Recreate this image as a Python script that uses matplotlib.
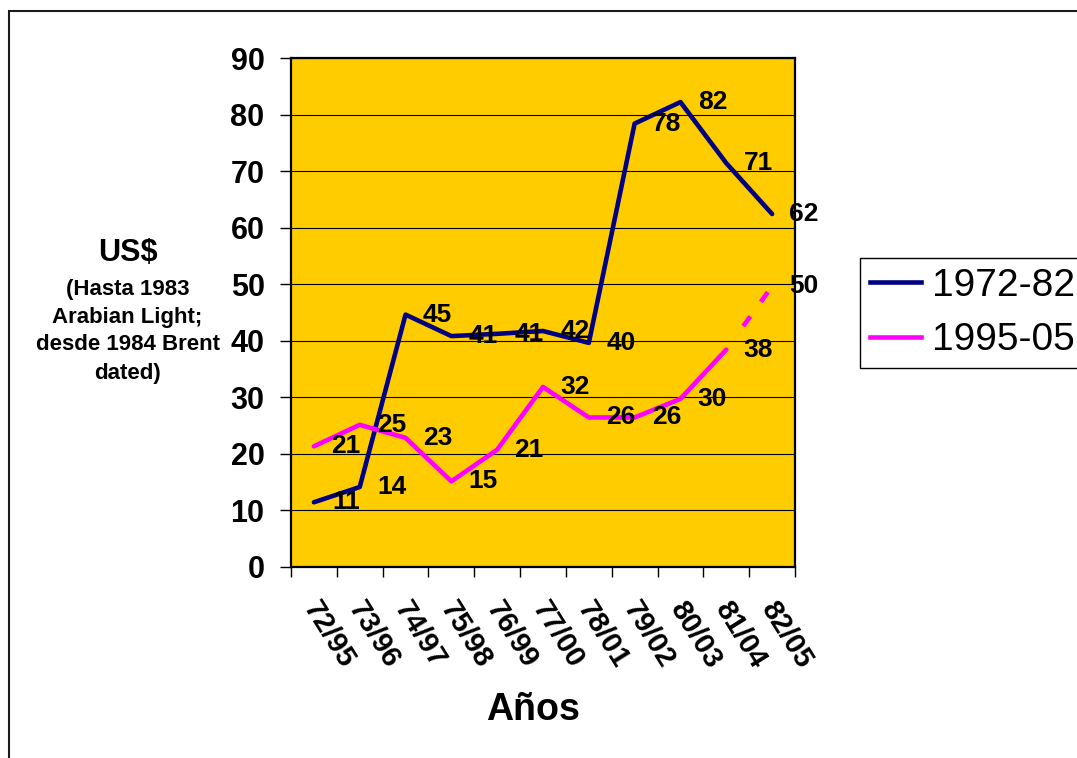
import matplotlib
matplotlib.use("Agg")
import matplotlib.pyplot as plt
import matplotlib.transforms as mtransforms
from matplotlib.lines import Line2D
from matplotlib.patches import Rectangle

plt.rcParams['font.family'] = ['Liberation Sans', 'DejaVu Sans']

# Oil price data (US$ per barrel)
periods = ['72/95', '73/96', '74/97', '75/98', '76/99', '77/00',
           '78/01', '79/02', '80/03', '81/04', '82/05']
prices_1972_82 = [11.4, 14.1, 44.6, 40.8, 41.2, 41.7, 39.6, 78.4, 82.2, 71.4, 62.4]
prices_1995_05 = [21.3, 25.1, 22.8, 15.1, 20.7, 31.8, 26.4, 26.4, 29.7, 38.4, 49.6]
series_names = ['1972-82', '1995-05']

navy = '#000080'
magenta = '#FF00FF'
gold = '#FFCC00'

W, H = 1077, 758
fig = plt.figure(figsize=(W / 100, H / 100), dpi=100)

# outer chart frame
fig.add_artist(Rectangle((8.5 / W, -0.2), 1.5, 1.2 - 10.5 / H,
                         transform=fig.transFigure, fill=False,
                         edgecolor='#1a1a1a', linewidth=1.5))

ax = fig.add_axes([291 / W, 1 - 566.7 / H, (795 - 291) / W, (566.7 - 58) / H])
ax.set_facecolor(gold)
ax.set_xlim(-0.5, 10.5)
ax.set_ylim(0, 90)
ax.set_yticks(range(0, 91, 10))
ax.yaxis.grid(True, color='black', linewidth=0.8)
ax.set_axisbelow(True)
for s in ax.spines.values():
    s.set_linewidth(1.6)
    s.set_color('black')

x = list(range(len(periods)))
lw = 3.3
ax.plot(x, prices_1972_82, color=navy, lw=lw, solid_capstyle='round',
        solid_joinstyle='round', zorder=3)
ax.plot(x[:-1], prices_1995_05[:-1], color=magenta, lw=lw,
        solid_capstyle='round', solid_joinstyle='round', zorder=3)

# last segment of the 1995-05 series drawn dashed; pattern given in pixels
px = 0.72 / lw
dash_offset = 50 * px
dash_seq = (12 * px, 18 * px, 12 * px, 37 * px)
ax.plot(x[-2:], prices_1995_05[-2:], color=magenta, lw=lw, zorder=3,
        linestyle=(dash_offset, dash_seq), dash_capstyle='butt')

# value labels to the right of each point
for series in (prices_1972_82, prices_1995_05):
    for i, v in enumerate(series):
        ax.annotate(f"{v:.0f}", (i, v), xytext=(23, 0), textcoords='offset points',
                    ha='center', va='center', fontsize=19, fontweight='bold',
                    zorder=4, annotation_clip=False)

# y axis
ax.tick_params(axis='y', which='major', length=8, width=1, pad=11,
               labelsize=22, direction='out')
for t in ax.get_yticklabels():
    t.set_fontweight('bold')

# x axis: tick marks on category boundaries, labels at centres
ax.set_xticks(x)
ax.set_xticks([i - 0.5 for i in range(len(periods) + 1)], minor=True)
ax.set_xticklabels(periods, rotation=-58, ha='left', va='top',
                   rotation_mode='anchor', fontsize=21, fontweight='bold')
ax.tick_params(axis='x', which='major', length=0, pad=21)
ax.tick_params(axis='x', which='minor', length=7, width=1, direction='out')
shift = mtransforms.ScaledTranslation(7 / 100, 0, fig.dpi_scale_trans)
for t in ax.get_xticklabels():
    t.set_transform(t.get_transform() + shift)

fig.text(533 / W, 1 - 710 / H, 'Años', ha='center', va='center',
         fontsize=27, fontweight='bold')
fig.text(128 / W, 1 - 253 / H, 'US$', ha='center', va='center',
         fontsize=22, fontweight='bold')
sub_lines = ['(Hasta 1983', 'Arabian Light;', 'desde 1984 Brent', 'dated)']
for k, line in enumerate(sub_lines):
    fig.text(127.5 / W, 1 - (289 + 28 * k) / H, line, ha='center', va='center',
             fontsize=16, fontweight='bold')

handles = [Line2D([], [], color=navy, lw=lw), Line2D([], [], color=magenta, lw=lw)]
leg = fig.legend(handles, series_names, loc='upper left',
                 bbox_to_anchor=(860 / W, 1 - 258 / H), fontsize=28,
                 frameon=True, fancybox=False, edgecolor='black', framealpha=1,
                 borderpad=0.25, handlelength=1.33, handletextpad=0.26,
                 labelspacing=0.48, borderaxespad=0)
leg.get_frame().set_linewidth(1.0)

fig.savefig('out.png', dpi=100)
